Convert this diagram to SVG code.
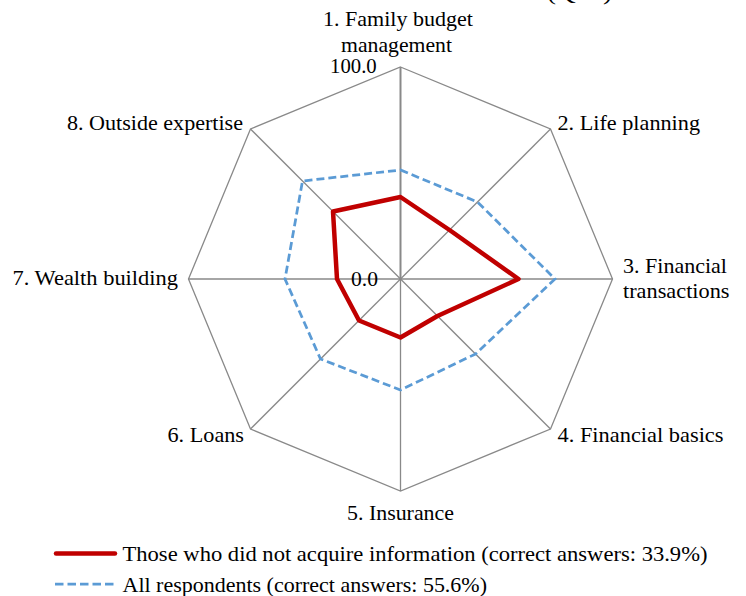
<svg xmlns="http://www.w3.org/2000/svg" width="746" height="596" viewBox="0 0 746 596">
<style>
text{font-family:"Liberation Serif","Times New Roman",serif;font-size:21px;fill:#000}
.grid{fill:none;stroke:#898989;stroke-width:1.3}
.red{fill:none;stroke:#C00000;stroke-width:4.5;stroke-linejoin:round}
.blue{fill:none;stroke:#5B9BD5;stroke-width:2.75;stroke-dasharray:8 4}
</style>
<rect width="746" height="596" fill="#fff"/>
<text x="547" y="0" textLength="65" lengthAdjust="spacingAndGlyphs">(Q…)</text>
<g id="grid">
<polygon class="grid" points="400.5,67 550.5,129 612.5,279 550.5,429 400.5,491 250.5,429 188.5,279 250.5,129"/>
<line class="grid" x1="400.5" y1="279" x2="550.5" y2="129"/>
<line class="grid" x1="400.5" y1="279" x2="612.5" y2="279"/>
<line class="grid" x1="400.5" y1="279" x2="550.5" y2="429"/>
<line class="grid" x1="400.5" y1="279" x2="400.5" y2="491"/>
<line class="grid" x1="400.5" y1="279" x2="250.5" y2="429"/>
<line class="grid" x1="400.5" y1="279" x2="188.5" y2="279"/>
<line class="grid" x1="400.5" y1="279" x2="250.5" y2="129"/>
<line class="grid" x1="400.5" y1="279" x2="400.5" y2="67" style="stroke-width:2"/>
</g>
<g id="series">
<polygon class="red" points="400.5,197 449.5,230 518.5,279 437.5,316 400.5,337.5 359,320.5 337,279 333,211.5"/>
<polygon class="blue" points="400.5,170 477.5,202 555,279 475.5,354 400.5,390 320.5,359 285,279 302.5,181"/>
</g>
<g id="axis-labels">
<text x="330" y="73" textLength="46.7" lengthAdjust="spacingAndGlyphs">100.0</text>
<text x="351" y="286" textLength="27" lengthAdjust="spacingAndGlyphs">0.0</text>
</g>
<g id="n1"><text x="323" y="26" textLength="150" lengthAdjust="spacingAndGlyphs">1. Family budget</text><text x="341" y="52" textLength="111" lengthAdjust="spacingAndGlyphs">management</text></g>
<g id="n2"><text x="557.5" y="130" textLength="142.5" lengthAdjust="spacingAndGlyphs">2. Life planning</text></g>
<g id="n3"><text x="623" y="273" textLength="104" lengthAdjust="spacingAndGlyphs">3. Financial</text><text x="623" y="297.5" textLength="106.5" lengthAdjust="spacingAndGlyphs">transactions</text></g>
<g id="n4"><text x="557.5" y="441.5" textLength="166" lengthAdjust="spacingAndGlyphs">4. Financial basics</text></g>
<g id="n5"><text x="347" y="520" textLength="107" lengthAdjust="spacingAndGlyphs">5. Insurance</text></g>
<g id="n6"><text x="167.5" y="442" textLength="76.5" lengthAdjust="spacingAndGlyphs">6. Loans</text></g>
<g id="n7"><text x="12.5" y="285" textLength="165.5" lengthAdjust="spacingAndGlyphs">7. Wealth building</text></g>
<g id="n8"><text x="67" y="130" textLength="176" lengthAdjust="spacingAndGlyphs">8. Outside expertise</text></g>
<g id="legend">
<line x1="56" y1="553.5" x2="115" y2="553.5" stroke="#C00000" stroke-width="4.5" stroke-linecap="round"/>
<text x="122.5" y="560.5" textLength="585" lengthAdjust="spacingAndGlyphs">Those who did not acquire information (correct answers: 33.9%)</text>
<line x1="55" y1="584" x2="117" y2="584" stroke="#5B9BD5" stroke-width="2.75" stroke-dasharray="8.5 4"/>
<text x="122.5" y="591.5" textLength="364.5" lengthAdjust="spacingAndGlyphs">All respondents (correct answers: 55.6%)</text>
</g>
</svg>
